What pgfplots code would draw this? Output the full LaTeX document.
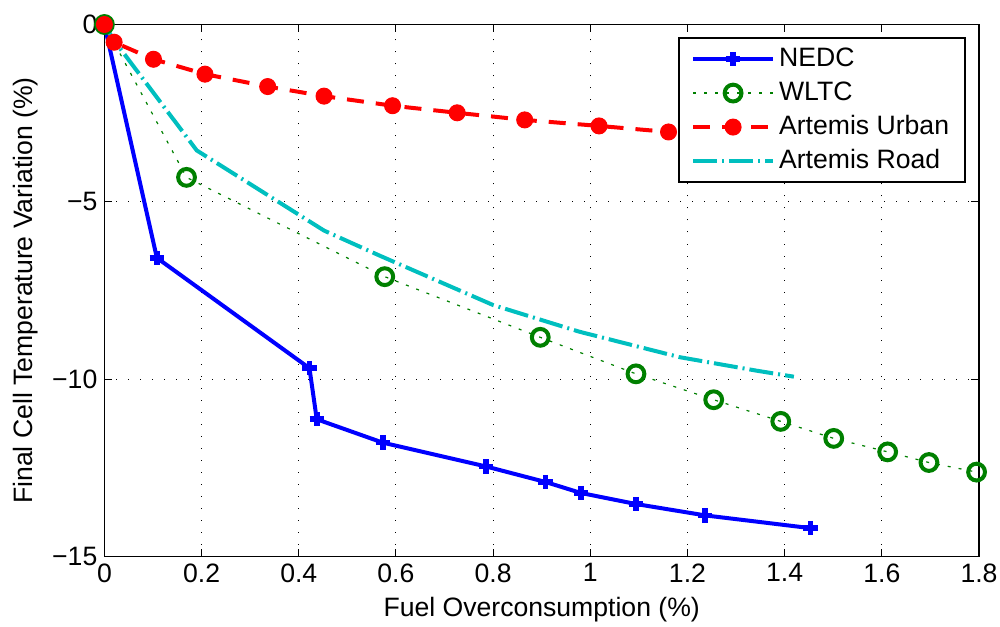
\documentclass[border=0pt]{standalone}
\usepackage{fontspec}
\setmainfont{Liberation Sans}
\usepackage{pgfplots}
\pgfplotsset{compat=1.18}
\definecolor{mBlue}{RGB}{0,0,255}
\definecolor{mGreen}{RGB}{0,128,0}
\definecolor{mRed}{RGB}{255,0,0}
\definecolor{mCyan}{RGB}{0,191,191}
\newcommand{\mfont}{\fontsize{13.3}{16}\selectfont}

\begin{document}
\begin{tikzpicture}
\begin{axis}[
  scale only axis,
  width=437.3pt,
  height=266pt,
  xmin=0, xmax=1.8,
  ymin=-15, ymax=0,
  xtick={0,0.2,0.4,0.6,0.8,1,1.2,1.4,1.6,1.8},
  xticklabels={0,0.2,0.4,0.6,0.8,1,1.2,1.4,1.6,1.8},
  ytick={-15,-10,-5,0},
  yticklabels={−15,−10,−5,0},
  tick align=inside,
  xtick pos=both, ytick pos=both,
  major tick length=4pt,
  tick style={black, line width=0.5pt},
  axis line style={black, line width=0.8pt},
  ticklabel style={font=\mfont},
  grid=major,
  major grid style={black, line width=0.5pt, dash pattern=on 0.5pt off 5.5pt},
  xlabel={Fuel Overconsumption (\%)},
  ylabel={Final Cell Temperature Variation (\%)},
  every axis x label/.style={at={(axis description cs:0.5,0)}, anchor=base, yshift=-30pt, font=\mfont},
  every axis y label/.style={at={(axis description cs:0,0.5)}, rotate=90, anchor=base, yshift=35.7pt, font=\mfont},
  clip=false,
  legend style={at={(rel axis cs:0.985,0.976)}, anchor=north east, draw=black, line width=0.8pt,
    inner xsep=6pt, inner ysep=2pt, font=\mfont,
    nodes={inner sep=2pt, text height=10pt, text depth=3pt}},
  legend cell align=left,
  legend image code/.code={\draw[mark repeat=2,mark phase=2,#1] plot coordinates {(0pt,0pt) (20pt,0pt) (40pt,0pt)};},
]
\coordinate (sw) at (rel axis cs:0,0);
\coordinate (ne) at (rel axis cs:1,1);

\addplot[mBlue, line width=2pt, mark=+, mark size=3.6pt, mark options={solid, line width=2.8pt}] coordinates {
  (0,0) (0.108,-6.58) (0.422,-9.69) (0.437,-11.13) (0.573,-11.79) (0.785,-12.46)
  (0.908,-12.90) (0.981,-13.21) (1.094,-13.52) (1.236,-13.84) (1.453,-14.20)
};
\addlegendentry{NEDC}

\addplot[mGreen, line width=0.6pt, dash pattern=on 1.5pt off 4pt, mark=o, mark size=4.2pt, mark options={solid, line width=2pt}] coordinates {
  (0,0) (0.169,-4.31) (0.577,-7.11) (0.897,-8.82) (1.094,-9.85) (1.254,-10.58)
  (1.392,-11.19) (1.501,-11.67) (1.612,-12.05) (1.697,-12.35) (1.795,-12.62)
};
\addlegendentry{WLTC}

\addplot[mRed, line width=2pt, dash pattern=on 8.5pt off 6pt, mark=*, mark size=4pt, mark options={solid, line width=0.5pt, fill=mRed}] coordinates {
  (0,0) (0.02,-0.50) (0.101,-0.98) (0.207,-1.40) (0.336,-1.75) (0.452,-2.02)
  (0.593,-2.29) (0.726,-2.49) (0.865,-2.69) (1.018,-2.86) (1.161,-3.03)
};
\addlegendentry{Artemis Urban}

\addplot[mCyan, line width=2pt, dash pattern=on 12pt off 2.5pt on 1pt off 2.5pt] coordinates {
  (0,0) (0.02,-0.45) (0.19,-3.55) (0.452,-5.81) (0.567,-6.52) (0.80,-7.91)
  (0.977,-8.66) (1.184,-9.38) (1.342,-9.76) (1.419,-9.93)
};
\addlegendentry{Artemis Road}
\end{axis}
\pgfresetboundingbox
\useasboundingbox ([xshift=-52.2pt,yshift=-35.15pt]sw) rectangle ([xshift=10.5pt,yshift=12.25pt]ne);
\end{tikzpicture}
\end{document}
